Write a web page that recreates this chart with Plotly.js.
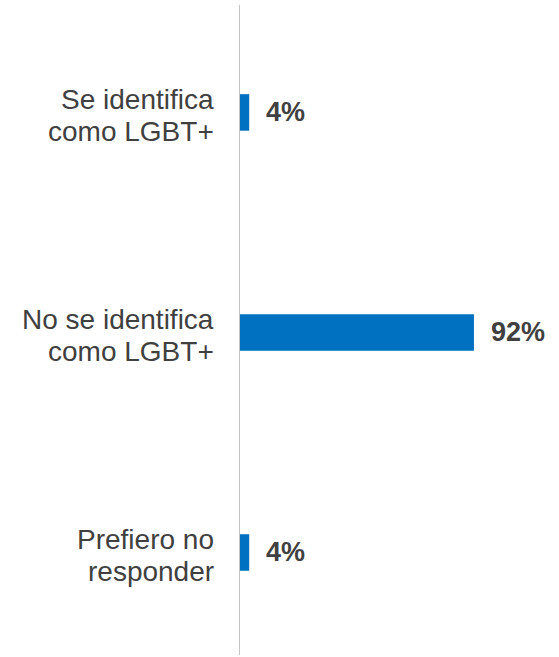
<!DOCTYPE html>
<html>
<head>
<meta charset="utf-8">
<script src="https://cdn.plot.ly/plotly-3.0.1.min.js"></script>
<style>html,body{margin:0;padding:0;background:#fff;}#chart{width:559px;height:657px;}</style>
</head>
<body>
<div id="chart"></div>
<script>
const categoryLine1 = ["Se identifica", "No se identifica", "Prefiero no"];
const categoryLine2 = ["como LGBT+", "como LGBT+", "responder"];
const values = [4, 92, 4];
const valueLabels = ["4%", "92%", "4%"];
const ids = [0, 1, 2];

const FONT = '"Liberation Sans", Arial, sans-serif';

const trace = {
  type: 'bar',
  orientation: 'h',
  x: values,
  y: ids,
  marker: {color: '#0070C0'},
  hoverinfo: 'skip'
};

const annotations = [];
values.forEach((v, i) => {
  annotations.push({
    x: v, y: ids[i], xref: 'x', yref: 'y',
    text: '<b>' + valueLabels[i] + '</b>',
    showarrow: false, xanchor: 'left', xshift: 15, yshift: 0,
    font: {family: FONT, size: 27, color: '#404040'}
  });
  annotations.push({
    x: 0, y: ids[i], xref: 'x', yref: 'y',
    text: categoryLine1[i],
    showarrow: false, xanchor: 'right', yanchor: 'middle', xshift: -23, yshift: 13,
    font: {family: FONT, size: 28, color: '#404040'}
  });
  annotations.push({
    x: 0, y: ids[i], xref: 'x', yref: 'y',
    text: categoryLine2[i],
    showarrow: false, xanchor: 'right', yanchor: 'middle', xshift: -23, yshift: -19,
    font: {family: FONT, size: 28, color: '#404040'}
  });
});

const layout = {
  width: 559, height: 657,
  margin: {l: 239, r: 0, t: 0, b: 0},
  paper_bgcolor: '#fff', plot_bgcolor: '#fff',
  showlegend: false,
  bargap: 0.834,
  xaxis: {range: [0, 125.3], showgrid: false, zeroline: false, showline: false, showticklabels: false, ticks: ''},
  yaxis: {
    range: [2.475, -0.511],
    showgrid: false, zeroline: false, showline: false, ticks: '', showticklabels: false
  },
  shapes: [{
    type: 'line', xref: 'x', yref: 'paper',
    x0: 0, x1: 0, y0: 2/657, y1: 652/657,
    line: {color: '#C4C4C4', width: 2}
  }],
  annotations: annotations
};

Plotly.newPlot('chart', [trace], layout, {displayModeBar: false, staticPlot: true});
</script>
</body>
</html>
